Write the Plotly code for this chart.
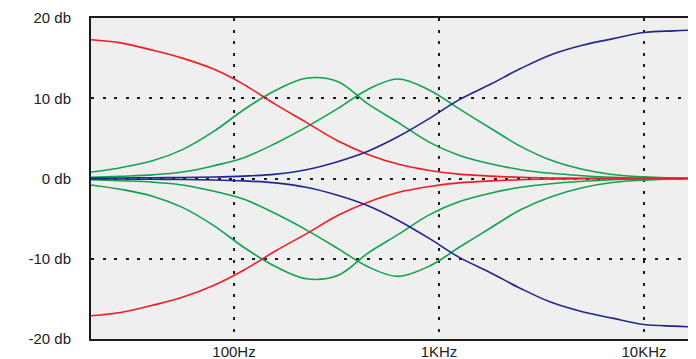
import numpy as np
import plotly.graph_objs as go

freqs = [20, 28, 40, 56, 80, 112, 160, 225, 320, 450, 630, 900,
         1250, 1800, 2500, 3500, 5000, 7000, 10000, 14000, 18000]

# Low shelf (red), dB
lowShelfBoost = [17.3, 16.9, 16.0, 15.0, 13.6, 11.7, 9.2, 7.0, 4.7, 3.0, 1.8, 1.0,
                 0.55, 0.3, 0.15, 0.07, 0.03, 0.0, 0.0, 0.0, 0.0]
lowShelfCut = [-17.1, -16.7, -15.8, -14.8, -13.3, -11.4, -9.0, -6.9, -4.6, -2.95, -1.75, -1.0,
               -0.55, -0.3, -0.15, -0.07, -0.03, 0.0, 0.0, 0.0, 0.0]

# High shelf (blue), dB
highShelfBoost = [0.05, 0.07, 0.1, 0.13, 0.18, 0.3, 0.55, 1.1, 2.1, 3.4, 5.2, 7.5,
                  9.8, 11.8, 13.7, 15.4, 16.6, 17.4, 18.2, 18.4, 18.5]
highShelfCut = [-0.05, -0.07, -0.1, -0.13, -0.18, -0.3, -0.55, -1.1, -2.1, -3.4, -5.2, -7.5,
                -9.8, -11.8, -13.7, -15.4, -16.6, -17.4, -18.2, -18.4, -18.5]

# Peaking filters (green), dB
peak1Boost = [0.8, 1.35, 2.2, 3.6, 5.9, 8.6, 11.0, 12.5, 12.1, 9.3, 7.0, 4.5,
              2.9, 1.8, 1.1, 0.65, 0.35, 0.15, 0.05, 0.02, 0.0]
peak1Cut = [-0.8, -1.35, -2.2, -3.6, -5.9, -8.6, -11.0, -12.5, -12.1, -9.3, -7.0, -4.5,
            -2.9, -1.8, -1.1, -0.65, -0.35, -0.15, -0.05, -0.02, 0.0]
peak2Boost = [0.15, 0.28, 0.45, 0.8, 1.6, 2.6, 4.4, 6.4, 8.7, 11.1, 12.4, 11.0,
              8.7, 6.2, 4.0, 2.3, 1.15, 0.5, 0.2, 0.07, 0.0]
peak2Cut = [-0.15, -0.28, -0.45, -0.8, -1.6, -2.6, -4.4, -6.4, -8.7, -11.0, -12.2, -10.9,
            -8.6, -6.1, -3.9, -2.3, -1.15, -0.5, -0.2, -0.07, 0.0]

yTicks = [-20, -10, 0, 10, 20]
yLabels = ["-20 db", "-10 db", "0 db", "10 db", "20 db"]
xTicks = [100, 1000, 10000]
xLabels = ["100Hz", "1KHz", "10KHz"]

RED = "#ee1c24"
GREEN = "#12a150"
BLUE = "#23268f"

curves = [
    (peak1Boost, GREEN), (peak1Cut, GREEN),
    (peak2Boost, GREEN), (peak2Cut, GREEN),
    (lowShelfBoost, RED), (lowShelfCut, RED),
    (highShelfBoost, BLUE), (highShelfCut, BLUE),
]

fig = go.Figure()
for values, color in curves:
    fig.add_trace(
        go.Scatter(
            x = freqs,
            y = values,
            mode = "lines",
            line = {"color": color, "width": 1.6, "shape": "spline", "smoothing": 1.0},
            hoverinfo = "skip",
        )
    )

# the page body has an 8px margin, so the figure is sized and offset to suit
fig.update_layout(
    width = 688,
    height = 351,
    showlegend = False,
    paper_bgcolor = "white",
    plot_bgcolor = "#eeefee",
    font = {"family": "Liberation Sans, Arial, sans-serif", "size": 15, "color": "#222"},
    margin = {"l": 83, "r": 0, "t": 10, "b": 20, "pad": 0},
    xaxis = {
        "type": "log",
        "range": [np.log10(20.06), 4.2537],
        "tickvals": xTicks,
        "ticktext": xLabels,
        "showgrid": True,
        "gridcolor": "#1a1a1a",
        "gridwidth": 2,
        "griddash": "3px,8.5px",
        "showline": True,
        "linecolor": "#1a1a1a",
        "linewidth": 2,
        "mirror": True,
        "ticks": "",
        "ticklabelstandoff": -2,
        "zeroline": False,
        "automargin": False,
    },
    yaxis = {
        "range": [-20, 20],
        "tickvals": yTicks,
        "ticktext": yLabels,
        "showgrid": True,
        "gridcolor": "#1a1a1a",
        "gridwidth": 2,
        "griddash": "3px,8.5px",
        "showline": True,
        "linecolor": "#1a1a1a",
        "linewidth": 2,
        "ticks": "outside",
        "ticklen": 15,
        "tickcolor": "rgba(0,0,0,0)",
        "zeroline": False,
        "automargin": False,
    },
)

fig.write_html("out.html")
